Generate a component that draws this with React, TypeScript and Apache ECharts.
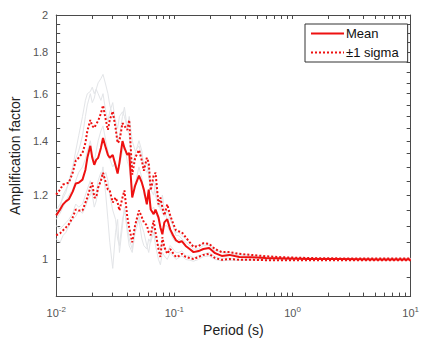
import React, { useEffect, useRef } from "react";
import * as echarts from "echarts";

// Periods (s)
const periods = [
  0.01, 0.01079, 0.01142, 0.01209, 0.0128, 0.0138, 0.01463, 0.0155, 0.0167, 0.01767,
  0.01835, 0.01945, 0.0202, 0.021, 0.0218, 0.02265, 0.0239, 0.0249, 0.0263, 0.0274,
  0.0284, 0.0301, 0.0318, 0.0331, 0.0343, 0.0364, 0.0378, 0.04, 0.0415, 0.044,
  0.0466, 0.0502, 0.0531, 0.0552, 0.0585, 0.0607, 0.0631, 0.0668, 0.0693, 0.0734,
  0.0762, 0.0792, 0.0823, 0.0871, 0.0922, 0.0975, 0.1032, 0.1093, 0.1157, 0.1248,
  0.1347, 0.1453, 0.16, 0.176, 0.197, 0.221, 0.252, 0.293, 0.355, 0.446,
  0.592, 0.865, 1.39, 2.46, 5.25, 10,
];

const meanValues = [
  1.133, 1.152, 1.169, 1.179, 1.186, 1.212, 1.24, 1.243, 1.254, 1.289,
  1.334, 1.38, 1.334, 1.308, 1.326, 1.334, 1.372, 1.411, 1.372, 1.345,
  1.334, 1.345, 1.305, 1.276, 1.315, 1.399, 1.372, 1.345, 1.353, 1.192,
  1.233, 1.268, 1.243, 1.219, 1.169, 1.219, 1.152, 1.137, 1.152, 1.127,
  1.095, 1.074, 1.111, 1.121, 1.089, 1.071, 1.056, 1.05, 1.053, 1.039,
  1.03, 1.021, 1.024, 1.03, 1.033, 1.018, 1.01, 1.013, 1.007, 1.006,
  1.004, 1.003, 1.001, 1.001, 1.0, 1.0,
];

const upperSigma = [
  1.202, 1.219, 1.237, 1.24, 1.243, 1.279, 1.323, 1.334, 1.353, 1.391,
  1.44, 1.485, 1.46, 1.452, 1.468, 1.481, 1.513, 1.548, 1.485, 1.444,
  1.485, 1.522, 1.452, 1.391, 1.399, 1.472, 1.46, 1.444, 1.485, 1.272,
  1.334, 1.364, 1.323, 1.286, 1.334, 1.315, 1.216, 1.268, 1.279, 1.169,
  1.192, 1.159, 1.133, 1.169, 1.133, 1.108, 1.086, 1.083, 1.08, 1.065,
  1.05, 1.036, 1.039, 1.047, 1.045, 1.03, 1.021, 1.021, 1.016, 1.013,
  1.009, 1.006, 1.004, 1.003, 1.003, 1.003,
];

const lowerSigma = [
  1.071, 1.077, 1.086, 1.095, 1.105, 1.127, 1.152, 1.149, 1.149, 1.175,
  1.192, 1.226, 1.243, 1.192, 1.192, 1.226, 1.25, 1.279, 1.243, 1.219,
  1.216, 1.175, 1.192, 1.175, 1.149, 1.192, 1.216, 1.127, 1.095, 1.05,
  1.102, 1.149, 1.127, 1.111, 1.102, 1.08, 1.071, 1.117, 1.08, 1.03,
  1.007, 1.065, 1.036, 1.016, 1.03, 1.018, 1.007, 1.01, 1.016, 1.007,
  1.004, 1.001, 1.007, 1.013, 1.016, 1.004, 0.999, 1.001, 0.999, 0.999,
  0.998, 0.998, 0.998, 0.998, 0.998, 0.998,
];

const record1 = [
  1.15, 1.17, 1.19, 1.21, 1.25, 1.3, 1.36, 1.42, 1.5, 1.57,
  1.6, 1.61, 1.63, 1.6, 1.62, 1.65, 1.67, 1.69, 1.64, 1.6,
  1.55, 1.5, 1.48, 1.45, 1.5, 1.52, 1.5, 1.45, 1.5, 1.4,
  1.36, 1.38, 1.34, 1.3, 1.32, 1.26, 1.22, 1.25, 1.2, 1.16,
  1.18, 1.14, 1.13, 1.15, 1.12, 1.1, 1.08, 1.08, 1.07, 1.06,
  1.05, 1.04, 1.04, 1.045, 1.045, 1.03, 1.02, 1.02, 1.015, 1.012,
  1.008, 1.005, 1.004, 1.003, 1.003, 1.003,
];

const record2 = [
  1.14, 1.16, 1.2, 1.22, 1.24, 1.28, 1.33, 1.36, 1.42, 1.5,
  1.55, 1.6, 1.56, 1.58, 1.62, 1.6, 1.57, 1.6, 1.52, 1.48,
  1.52, 1.56, 1.47, 1.4, 1.42, 1.5, 1.54, 1.45, 1.42, 1.3,
  1.35, 1.4, 1.36, 1.3, 1.28, 1.3, 1.22, 1.2, 1.24, 1.18,
  1.15, 1.2, 1.15, 1.12, 1.13, 1.1, 1.07, 1.07, 1.06, 1.05,
  1.04, 1.03, 1.03, 1.04, 1.04, 1.025, 1.02, 1.015, 1.012, 1.01,
  1.006, 1.004, 1.003, 1.002, 1.002, 1.002,
];

const record3 = [
  1.1, 1.09, 1.1, 1.11, 1.12, 1.14, 1.17, 1.16, 1.17, 1.2,
  1.22, 1.25, 1.2, 1.16, 1.18, 1.22, 1.26, 1.3, 1.2, 1.12,
  1.05, 0.975, 1.08, 1.12, 1.02, 1.1, 1.16, 1.08, 1.04, 1.02,
  1.08, 1.12, 1.06, 1.04, 1.03, 1.06, 1.05, 1.08, 1.04, 1.0,
  0.985, 1.02, 1.01, 1.0, 1.02, 1.01, 1.0, 1.005, 1.01, 1.0,
  0.998, 0.995, 1.0, 1.008, 1.01, 1.0, 0.996, 0.998, 0.997, 0.998,
  0.999, 0.999, 1.0, 1.0, 1.0, 1.0,
];

const record4 = [
  1.06, 1.05, 1.07, 1.08, 1.1, 1.12, 1.13, 1.15, 1.14, 1.16,
  1.18, 1.2, 1.22, 1.2, 1.21, 1.25, 1.28, 1.26, 1.28, 1.25,
  1.2, 1.15, 1.12, 1.06, 1.04, 1.12, 1.15, 1.1, 1.06, 1.03,
  1.1, 1.13, 1.1, 1.08, 1.04, 1.02, 1.06, 1.1, 1.06, 1.04,
  1.03, 1.05, 1.03, 1.02, 1.04, 1.03, 1.02, 1.02, 1.025, 1.01,
  1.01, 1.005, 1.01, 1.015, 1.02, 1.008, 1.003, 1.004, 1.0, 1.0,
  1.0, 1.0, 1.0, 1.0, 1.0, 1.0,
];

const record5 = [
  1.12, 1.14, 1.16, 1.18, 1.2, 1.22, 1.25, 1.28, 1.3, 1.33,
  1.36, 1.4, 1.35, 1.32, 1.36, 1.4, 1.44, 1.46, 1.4, 1.36,
  1.33, 1.3, 1.32, 1.28, 1.3, 1.36, 1.38, 1.32, 1.3, 1.22,
  1.24, 1.3, 1.26, 1.2, 1.18, 1.22, 1.15, 1.16, 1.14, 1.12,
  1.1, 1.08, 1.1, 1.1, 1.08, 1.06, 1.05, 1.06, 1.05, 1.04,
  1.03, 1.02, 1.02, 1.03, 1.035, 1.02, 1.01, 1.01, 1.008, 1.006,
  1.004, 1.003, 1.002, 1.001, 1.001, 1.001,
];

const records = [record1, record2, record3, record4, record5];

const yTickLabels = [1, 1.2, 1.4, 1.6, 1.8, 2];
const yMinorTicks = [0.9, 0.95, 1.05, 1.1, 1.15, 1.25, 1.3, 1.35, 1.45, 1.5, 1.55, 1.65, 1.7, 1.75, 1.85, 1.9, 1.95];
const xDecades = [-2, -1, 0, 1];
const yMin = 0.9;
const yMax = 2;

const lg = (v: number) => Math.log10(v);

export default function App() {
  const ref = useRef<HTMLDivElement>(null);
  useEffect(() => {
    if (!ref.current) return;
    const chart = echarts.init(ref.current, undefined, { renderer: "svg" });

    const pts = (vals: number[]) => periods.map((p, i) => [lg(p), lg(vals[i])]);

    const xTickVals: number[] = [];
    for (let d = -2; d < 1; d++) {
      for (let k = 1; k <= 9; k++) xTickVals.push(lg(k * Math.pow(10, d)));
    }
    xTickVals.push(1);
    const yTickVals = [...yTickLabels, ...yMinorTicks].map(lg);
    const yLabelVals = yTickLabels.map(lg);

    const axisColor = "#4a4a4a";
    const font = "Liberation Sans, Arial, sans-serif";
    const red = "#ee1111";

    const xBase = {
      type: "value",
      min: -2,
      max: 1,
      axisLine: { show: true, onZero: false, lineStyle: { color: axisColor, width: 1 } },
      axisTick: { show: true, inside: true, length: 4, customValues: xTickVals, lineStyle: { color: axisColor } },
      splitLine: { show: false },
    };
    const yBase = {
      type: "value",
      min: lg(yMin),
      max: lg(yMax),
      axisLine: { show: true, onZero: false, lineStyle: { color: axisColor, width: 1 } },
      axisTick: { show: true, inside: true, length: 4, customValues: yTickVals, lineStyle: { color: axisColor } },
      splitLine: { show: false },
    };

    const series: any[] = [];
    records.forEach((r, i) => {
      series.push({
        type: "line",
        name: "record" + (i + 1),
        data: pts(r),
        showSymbol: false,
        symbol: "none",
        lineStyle: { color: "#e3e5e8", width: 1 },
        z: 1,
      });
    });
    series.push({
      type: "line",
      name: "±1 sigma",
      data: pts(upperSigma),
      symbol: "none",
      lineStyle: { color: red, width: 2, type: [2, 2] },
      itemStyle: { color: red },
      z: 2,
    });
    series.push({
      type: "line",
      name: "±1 sigma",
      data: pts(lowerSigma),
      symbol: "none",
      lineStyle: { color: red, width: 2, type: [2, 2] },
      itemStyle: { color: red },
      z: 2,
    });
    series.push({
      type: "line",
      name: "Mean",
      data: pts(meanValues),
      symbol: "none",
      lineStyle: { color: red, width: 2 },
      itemStyle: { color: red },
      z: 3,
    });

    chart.setOption({
      animation: false,
      backgroundColor: "#ffffff",
      textStyle: { fontFamily: font },
      grid: { left: 50, right: 8, top: 15, bottom: 42, containLabel: false },
      legend: {
        data: ["Mean", "±1 sigma"],
        orient: "vertical",
        left: 305,
        top: 24,
        padding: [3, 9, 3, 5],
        itemGap: 6,
        itemWidth: 33,
        itemHeight: 14,
        backgroundColor: "#ffffff",
        borderColor: "#333333",
        borderWidth: 1,
        borderRadius: 0,
        itemStyle: { color: "transparent", borderColor: "transparent", borderWidth: 0, opacity: 0 },
        textStyle: { fontSize: 13, color: "#111111", fontFamily: font, padding: [0, 0, 0, -3] },
      },
      xAxis: [
        {
          ...xBase,
          position: "bottom",
          name: "Period (s)",
          nameLocation: "middle",
          nameGap: 21,
          nameTextStyle: { fontSize: 14, color: "#222222", fontFamily: font },
          axisLabel: {
            show: true,
            customValues: xDecades,
            margin: 9,
            hideOverlap: false,
            showMinLabel: true,
            showMaxLabel: true,
            formatter: (v: number) => `{b|10}{s|${Math.round(v)}}`,
            rich: {
              b: { fontSize: 11, color: "#555555", fontFamily: font, lineHeight: 14 },
              s: { fontSize: 8, color: "#555555", fontFamily: font, verticalAlign: "top", lineHeight: 14 },
            },
          },
        },
        {
          ...xBase,
          position: "top",
          axisLabel: { show: false },
        },
      ],
      yAxis: [
        {
          ...yBase,
          position: "left",
          name: "Amplification factor",
          nameLocation: "middle",
          nameGap: 25,
          nameTextStyle: { fontSize: 14, color: "#222222", fontFamily: font },
          axisLabel: {
            show: true,
            customValues: yLabelVals,
            margin: 8,
            hideOverlap: false,
            showMinLabel: true,
            showMaxLabel: true,
            fontSize: 11,
            color: "#555555",
            fontFamily: font,
            formatter: (v: number) => String(Math.round(Math.pow(10, v) * 10) / 10),
          },
        },
        {
          ...yBase,
          position: "right",
          axisLabel: { show: false },
        },
      ],
      series,
    });

    return () => chart.dispose();
  }, []);

  return <div ref={ref} style={{ width: 422, height: 342, position: "absolute", left: 0, top: 0 }} />;
}
